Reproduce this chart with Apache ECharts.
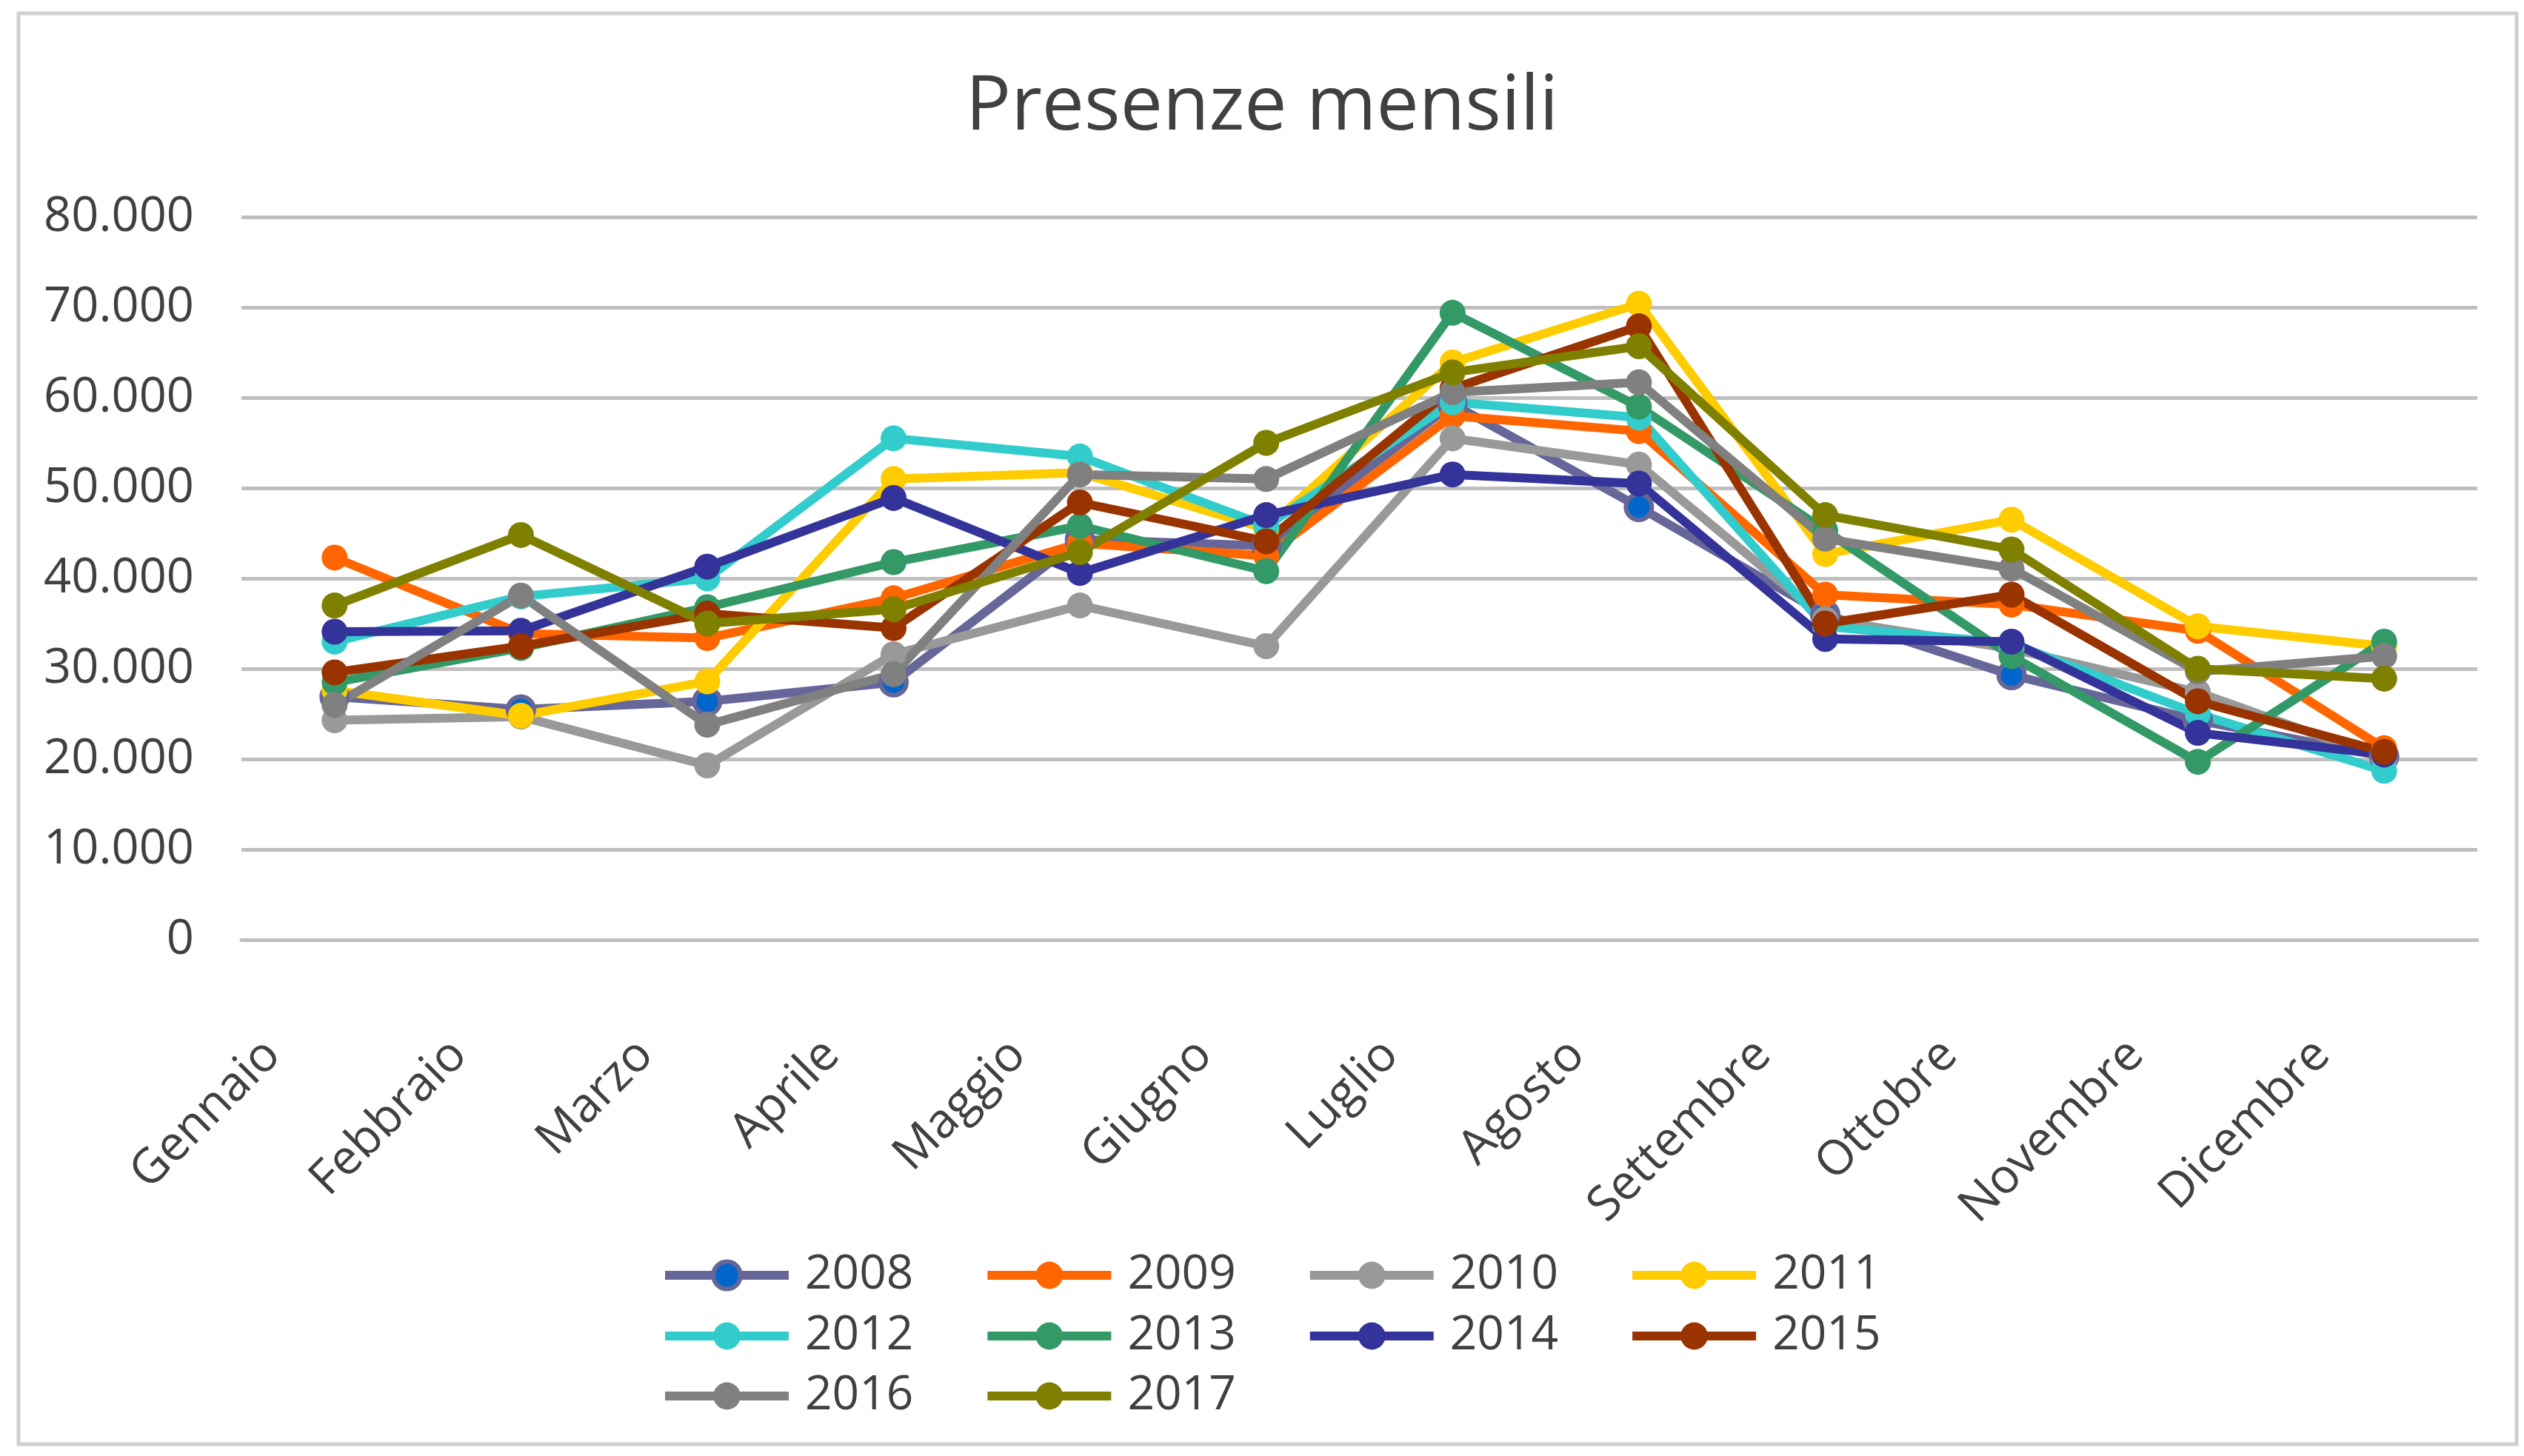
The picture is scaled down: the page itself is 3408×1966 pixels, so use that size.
<!DOCTYPE html>
<html>
<head>
<meta charset="utf-8">
<script src="https://cdn.jsdelivr.net/npm/echarts@6/dist/echarts.min.js"></script>
<style>
html,body{margin:0;padding:0;background:#fff;}
#chart{width:3408px;height:1966px;}
</style>
</head>
<body>
<div id="chart"></div>
<script>
const months = ['Gennaio','Febbraio','Marzo','Aprile','Maggio','Giugno','Luglio','Agosto','Settembre','Ottobre','Novembre','Dicembre'];
const years = ['2008','2009','2010','2011','2012','2013','2014','2015','2016','2017'];
const y2008 = [26900, 25500, 26400, 28500, 44300, 43600, 59300, 47900, 36000, 29300, 24300, 20300];
const y2009 = [42300, 33900, 33400, 37800, 43900, 42500, 58000, 56300, 38200, 37100, 34200, 21200];
const y2010 = [24300, 24700, 19300, 31600, 37000, 32500, 55500, 52600, 35500, 32200, 27400, 20000];
const y2011 = [27600, 24800, 28600, 51000, 51700, 45500, 63900, 70400, 42700, 46500, 34700, 32500];
const y2012 = [33000, 38000, 40000, 55500, 53500, 45800, 59500, 57800, 34700, 32800, 25000, 18700];
const y2013 = [28500, 32300, 36800, 41800, 45800, 40800, 69400, 59000, 45300, 31400, 19700, 33000];
const y2014 = [34100, 34200, 41300, 48900, 40600, 47000, 51500, 50500, 33300, 33000, 22900, 20500];
const y2015 = [29600, 32500, 36100, 34500, 48400, 44100, 61000, 67900, 35000, 38200, 26400, 20800];
const y2016 = [26000, 38100, 23800, 29400, 51500, 51000, 60600, 61700, 44400, 41100, 29700, 31400];
const y2017 = [37000, 44800, 35000, 36600, 42900, 55000, 62800, 65700, 47000, 43200, 30000, 28900];
const seriesValues = [y2008, y2009, y2010, y2011, y2012, y2013, y2014, y2015, y2016, y2017];
const lineColors = ['#666699','#FF6600','#999999','#FFCC00','#33CCCC','#339966','#333399','#993300','#808080','#808000'];
const markerColors = ['#0066CC','#FF6600','#999999','#FFCC00','#33CCCC','#339966','#333399','#993300','#808080','#808000'];

const FONT = '"Open Sans", "Noto Sans", sans-serif';
const TXT = '#404040';
const LINE_W = 12;

function fmt(v){
  if (v === 0) return '0';
  return String(v).replace(/\B(?=(\d{3})+(?!\d))/g, '.');
}

const series = years.map((y, i) => ({
  name: y,
  type: 'line',
  data: seriesValues[i],
  symbol: 'circle',
  symbolSize: 35,
  showAllSymbol: true,
  lineStyle: { color: lineColors[i], width: LINE_W },
  itemStyle: i === 0
    ? { color: markerColors[i], borderColor: lineColors[i], borderWidth: 6 }
    : { color: markerColors[i], borderWidth: 0 },
  emphasis: { disabled: true },
  animation: false
}));

function legendRow(idxs, top){
  return {
    data: idxs.map(i => ({
      name: years[i],
      itemStyle: i === 0
        ? { color: markerColors[i], borderColor: lineColors[i], borderWidth: 6 }
        : { color: markerColors[i], borderWidth: 0 },
      lineStyle: { color: lineColors[i], width: LINE_W }
    })),
    left: 892,
    top: top,
    orient: 'horizontal',
    padding: 0,
    itemWidth: 167,
    itemHeight: 46,
    itemGap: 94,
    lineStyle: { width: LINE_W },
    textStyle: { fontFamily: FONT, fontSize: 64, color: TXT, lineHeight: 46, padding: [0,0,0,17] },
    selectedMode: false
  };
}

const chart = echarts.init(document.getElementById('chart'), null, { renderer: 'canvas' });
chart.setOption({
  backgroundColor: '#ffffff',
  animation: false,
  title: {
    text: 'Presenze mensili',
    left: 'center',
    top: 95,
    padding: 0,
    textStyle: { fontFamily: FONT, fontSize: 102, fontWeight: 'normal', color: TXT }
  },
  graphic: [{
    type: 'rect',
    shape: { x: 25, y: 18, width: 3373, height: 1932 },
    style: { fill: null, stroke: '#D0D0D0', lineWidth: 5 },
    silent: true
  }],
  legend: [
    legendRow([0,1,2,3], 1690),
    legendRow([4,5,6,7], 1772),
    legendRow([8,9], 1853)
  ],
  grid: { left: 326, right: 63, top: 293, bottom: 697, containLabel: false },
  xAxis: {
    type: 'category',
    data: months,
    boundaryGap: true,
    axisLine: { show: true, lineStyle: { color: '#BFBFBF', width: 5 } },
    axisTick: { show: false },
    axisLabel: {
      interval: 0,
      rotate: 45,
      margin: 62,
      fontFamily: FONT,
      fontSize: 65,
      color: TXT,
      padding: [0, 118, 0, 0]
    }
  },
  yAxis: {
    type: 'value',
    min: 0,
    max: 80000,
    interval: 10000,
    axisLine: { show: false },
    axisTick: { show: false },
    splitLine: { show: true, lineStyle: { color: '#BFBFBF', width: 5 } },
    axisLabel: {
      margin: 64,
      fontFamily: FONT,
      fontSize: 65,
      color: TXT,
      formatter: fmt
    }
  },
  series: series
});
</script>
</body>
</html>
